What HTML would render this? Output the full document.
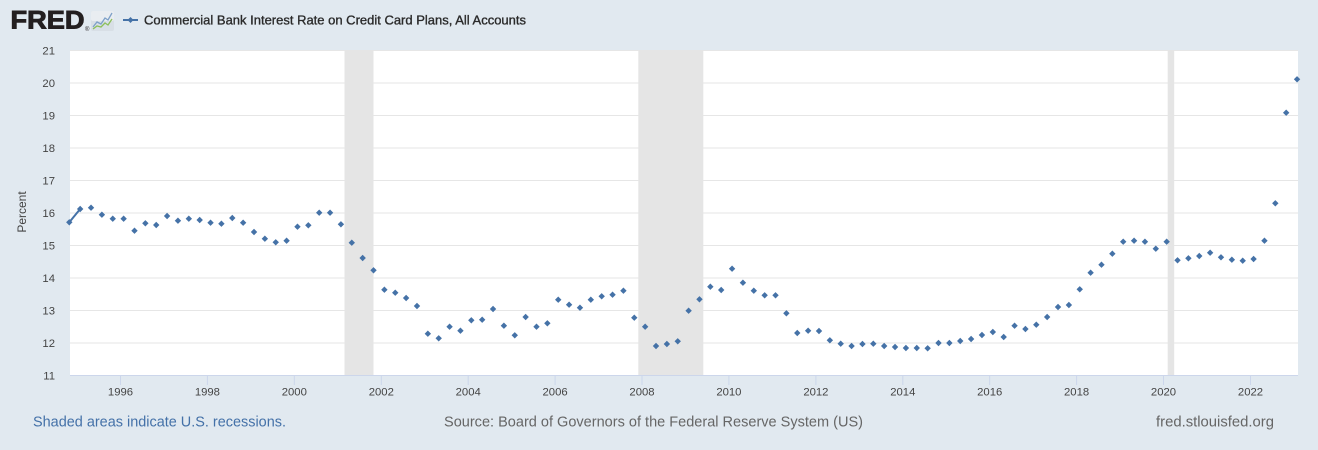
<!DOCTYPE html>
<html><head><meta charset="utf-8"><style>
html,body{margin:0;padding:0;background:#e1e9f0;}
svg{display:block;font-family:"Liberation Sans",Arial,sans-serif;}
</style></head><body>
<svg width="1318" height="450" viewBox="0 0 1318 450" xmlns="http://www.w3.org/2000/svg">
<rect x="0" y="0" width="1318" height="450" fill="#e1e9f0"/>
<!-- header -->
<text x="10.5" y="28.7" font-size="25" font-weight="bold" fill="#231f20" stroke="#231f20" stroke-width="0.9" textLength="74" lengthAdjust="spacingAndGlyphs">FRED</text>
<text x="85" y="31" font-size="6" fill="#231f20">®</text>
<rect x="91" y="11" width="23" height="20" rx="2" fill="#d8dfe6"/>
<rect x="91" y="11" width="23" height="10" rx="2" fill="#e9edf1"/>
<polyline points="93,27 97,22 101,24 105,18 108,20 112,13" fill="none" stroke="#7da0c8" stroke-width="1.3"/>
<polyline points="93,29 97,26 101,27 105,23 108,25 112,19" fill="none" stroke="#8cbf5a" stroke-width="1.3"/>
<line x1="123" y1="20" x2="138" y2="20" stroke="#4572a7" stroke-width="2"/>
<path d="M130.5 17 l3 3 -3 3 -3 -3z" fill="#4572a7"/>
<text x="144" y="24.3" font-size="13" fill="#2b2b2b" stroke="#2b2b2b" stroke-width="0.35" textLength="382" lengthAdjust="spacingAndGlyphs">Commercial Bank Interest Rate on Credit Card Plans, All Accounts</text>

<!-- plot area -->
<rect x="70" y="50" width="1228" height="325" fill="#ffffff"/>
<g stroke="#e6e6e6" stroke-width="1" shape-rendering="crispEdges">
<line x1="70" y1="50.5" x2="1298" y2="50.5"/>
<line x1="70" y1="83" x2="1298" y2="83"/>
<line x1="70" y1="115.5" x2="1298" y2="115.5"/>
<line x1="70" y1="148" x2="1298" y2="148"/>
<line x1="70" y1="180.5" x2="1298" y2="180.5"/>
<line x1="70" y1="213" x2="1298" y2="213"/>
<line x1="70" y1="245.5" x2="1298" y2="245.5"/>
<line x1="70" y1="278" x2="1298" y2="278"/>
<line x1="70" y1="310.5" x2="1298" y2="310.5"/>
<line x1="70" y1="343" x2="1298" y2="343"/>
</g>
<!-- recessions -->
<rect x="344.5" y="50" width="29" height="325" fill="#e5e5e5"/>
<rect x="638.3" y="50" width="65" height="325" fill="#e5e5e5"/>
<rect x="1167.7" y="50" width="6.5" height="325" fill="#e5e5e5"/>
<!-- x axis -->
<line x1="70" y1="375.5" x2="1298" y2="375.5" stroke="#ccd6eb" stroke-width="1"/>
<g stroke="#ccd6eb" stroke-width="1">
<line x1="120.5" y1="375" x2="120.5" y2="385"/>
<line x1="207.4" y1="375" x2="207.4" y2="385"/>
<line x1="294.3" y1="375" x2="294.3" y2="385"/>
<line x1="381.3" y1="375" x2="381.3" y2="385"/>
<line x1="468.2" y1="375" x2="468.2" y2="385"/>
<line x1="555.1" y1="375" x2="555.1" y2="385"/>
<line x1="642" y1="375" x2="642" y2="385"/>
<line x1="728.9" y1="375" x2="728.9" y2="385"/>
<line x1="815.9" y1="375" x2="815.9" y2="385"/>
<line x1="902.8" y1="375" x2="902.8" y2="385"/>
<line x1="989.7" y1="375" x2="989.7" y2="385"/>
<line x1="1076.6" y1="375" x2="1076.6" y2="385"/>
<line x1="1163.5" y1="375" x2="1163.5" y2="385"/>
<line x1="1250.5" y1="375" x2="1250.5" y2="385"/>
</g>
<g font-size="11.3" fill="#444" text-anchor="middle">
<text x="120.5" y="395.6">1996</text>
<text x="207.4" y="395.6">1998</text>
<text x="294.3" y="395.6">2000</text>
<text x="381.3" y="395.6">2002</text>
<text x="468.2" y="395.6">2004</text>
<text x="555.1" y="395.6">2006</text>
<text x="642" y="395.6">2008</text>
<text x="728.9" y="395.6">2010</text>
<text x="815.9" y="395.6">2012</text>
<text x="902.8" y="395.6">2014</text>
<text x="989.7" y="395.6">2016</text>
<text x="1076.6" y="395.6">2018</text>
<text x="1163.5" y="395.6">2020</text>
<text x="1250.5" y="395.6">2022</text>
</g>
<!-- y axis labels -->
<g font-size="11.3" fill="#444" text-anchor="end">
<text x="55" y="54.3">21</text>
<text x="55" y="87">20</text>
<text x="55" y="119.5">19</text>
<text x="55" y="152">18</text>
<text x="55" y="184.5">17</text>
<text x="55" y="217">16</text>
<text x="55" y="249.5">15</text>
<text x="55" y="282">14</text>
<text x="55" y="314.5">13</text>
<text x="55" y="347">12</text>
<text x="55" y="379.5">11</text>
</g>
<text transform="translate(26,212) rotate(-90)" font-size="12" fill="#444" text-anchor="middle">Percent</text>

<!-- series -->
<line x1="69.3" y1="222.3" x2="80.17" y2="209" stroke="#4572a7" stroke-width="2"/>
<path fill="#4572a7" d="
M69.3 219.1l3.2 3.2-3.2 3.2-3.2-3.2z
M80.17 205.8l3.2 3.2-3.2 3.2-3.2-3.2z
M91.03 204.5l3.2 3.2-3.2 3.2-3.2-3.2z
M101.9 211.5l3.2 3.2-3.2 3.2-3.2-3.2z
M112.76 215.5l3.2 3.2-3.2 3.2-3.2-3.2z
M123.63 215.5l3.2 3.2-3.2 3.2-3.2-3.2z
M134.49 227.5l3.2 3.2-3.2 3.2-3.2-3.2z
M145.36 220.1l3.2 3.2-3.2 3.2-3.2-3.2z
M156.22 221.8l3.2 3.2-3.2 3.2-3.2-3.2z
M167.09 212.8l3.2 3.2-3.2 3.2-3.2-3.2z
M177.95 217.5l3.2 3.2-3.2 3.2-3.2-3.2z
M188.82 215.5l3.2 3.2-3.2 3.2-3.2-3.2z
M199.68 216.8l3.2 3.2-3.2 3.2-3.2-3.2z
M210.55 219.5l3.2 3.2-3.2 3.2-3.2-3.2z
M221.41 220.5l3.2 3.2-3.2 3.2-3.2-3.2z
M232.28 214.8l3.2 3.2-3.2 3.2-3.2-3.2z
M243.14 219.5l3.2 3.2-3.2 3.2-3.2-3.2z
M254.01 228.8l3.2 3.2-3.2 3.2-3.2-3.2z
M264.87 235.5l3.2 3.2-3.2 3.2-3.2-3.2z
M275.74 239.1l3.2 3.2-3.2 3.2-3.2-3.2z
M286.6 237.5l3.2 3.2-3.2 3.2-3.2-3.2z
M297.47 223.5l3.2 3.2-3.2 3.2-3.2-3.2z
M308.33 222.1l3.2 3.2-3.2 3.2-3.2-3.2z
M319.2 209.5l3.2 3.2-3.2 3.2-3.2-3.2z
M330.06 209.5l3.2 3.2-3.2 3.2-3.2-3.2z
M340.93 221.1l3.2 3.2-3.2 3.2-3.2-3.2z
M351.79 239.5l3.2 3.2-3.2 3.2-3.2-3.2z
M362.66 254.8l3.2 3.2-3.2 3.2-3.2-3.2z
M373.52 267.1l3.2 3.2-3.2 3.2-3.2-3.2z
M384.39 286.5l3.2 3.2-3.2 3.2-3.2-3.2z
M395.25 289.5l3.2 3.2-3.2 3.2-3.2-3.2z
M406.12 294.8l3.2 3.2-3.2 3.2-3.2-3.2z
M416.98 302.8l3.2 3.2-3.2 3.2-3.2-3.2z
M427.85 330.5l3.2 3.2-3.2 3.2-3.2-3.2z
M438.71 335.1l3.2 3.2-3.2 3.2-3.2-3.2z
M449.58 323.5l3.2 3.2-3.2 3.2-3.2-3.2z
M460.44 327.5l3.2 3.2-3.2 3.2-3.2-3.2z
M471.31 317.1l3.2 3.2-3.2 3.2-3.2-3.2z
M482.17 316.5l3.2 3.2-3.2 3.2-3.2-3.2z
M493.04 305.8l3.2 3.2-3.2 3.2-3.2-3.2z
M503.9 322.5l3.2 3.2-3.2 3.2-3.2-3.2z
M514.77 332.1l3.2 3.2-3.2 3.2-3.2-3.2z
M525.63 313.8l3.2 3.2-3.2 3.2-3.2-3.2z
M536.5 323.5l3.2 3.2-3.2 3.2-3.2-3.2z
M547.36 320.1l3.2 3.2-3.2 3.2-3.2-3.2z
M558.23 296.5l3.2 3.2-3.2 3.2-3.2-3.2z
M569.09 301.5l3.2 3.2-3.2 3.2-3.2-3.2z
M579.96 304.5l3.2 3.2-3.2 3.2-3.2-3.2z
M590.82 296.5l3.2 3.2-3.2 3.2-3.2-3.2z
M601.69 293.1l3.2 3.2-3.2 3.2-3.2-3.2z
M612.55 291.5l3.2 3.2-3.2 3.2-3.2-3.2z
M623.42 287.5l3.2 3.2-3.2 3.2-3.2-3.2z
M634.28 314.5l3.2 3.2-3.2 3.2-3.2-3.2z
M645.15 323.5l3.2 3.2-3.2 3.2-3.2-3.2z
M656.01 342.8l3.2 3.2-3.2 3.2-3.2-3.2z
M666.88 340.8l3.2 3.2-3.2 3.2-3.2-3.2z
M677.74 338.1l3.2 3.2-3.2 3.2-3.2-3.2z
M688.61 307.5l3.2 3.2-3.2 3.2-3.2-3.2z
M699.47 296.1l3.2 3.2-3.2 3.2-3.2-3.2z
M710.34 283.5l3.2 3.2-3.2 3.2-3.2-3.2z
M721.2 286.8l3.2 3.2-3.2 3.2-3.2-3.2z
M732.07 265.5l3.2 3.2-3.2 3.2-3.2-3.2z
M742.93 279.5l3.2 3.2-3.2 3.2-3.2-3.2z
M753.8 287.5l3.2 3.2-3.2 3.2-3.2-3.2z
M764.66 292.1l3.2 3.2-3.2 3.2-3.2-3.2z
M775.53 292.1l3.2 3.2-3.2 3.2-3.2-3.2z
M786.39 310.1l3.2 3.2-3.2 3.2-3.2-3.2z
M797.26 329.8l3.2 3.2-3.2 3.2-3.2-3.2z
M808.12 327.5l3.2 3.2-3.2 3.2-3.2-3.2z
M818.99 327.8l3.2 3.2-3.2 3.2-3.2-3.2z
M829.85 337.1l3.2 3.2-3.2 3.2-3.2-3.2z
M840.72 340.5l3.2 3.2-3.2 3.2-3.2-3.2z
M851.58 342.8l3.2 3.2-3.2 3.2-3.2-3.2z
M862.45 340.8l3.2 3.2-3.2 3.2-3.2-3.2z
M873.31 340.5l3.2 3.2-3.2 3.2-3.2-3.2z
M884.18 342.8l3.2 3.2-3.2 3.2-3.2-3.2z
M895.04 343.8l3.2 3.2-3.2 3.2-3.2-3.2z
M905.91 344.8l3.2 3.2-3.2 3.2-3.2-3.2z
M916.77 344.8l3.2 3.2-3.2 3.2-3.2-3.2z
M927.64 345.1l3.2 3.2-3.2 3.2-3.2-3.2z
M938.5 339.8l3.2 3.2-3.2 3.2-3.2-3.2z
M949.37 339.8l3.2 3.2-3.2 3.2-3.2-3.2z
M960.23 337.8l3.2 3.2-3.2 3.2-3.2-3.2z
M971.1 335.8l3.2 3.2-3.2 3.2-3.2-3.2z
M981.96 331.8l3.2 3.2-3.2 3.2-3.2-3.2z
M992.83 328.8l3.2 3.2-3.2 3.2-3.2-3.2z
M1003.69 333.8l3.2 3.2-3.2 3.2-3.2-3.2z
M1014.56 322.5l3.2 3.2-3.2 3.2-3.2-3.2z
M1025.42 325.8l3.2 3.2-3.2 3.2-3.2-3.2z
M1036.29 321.5l3.2 3.2-3.2 3.2-3.2-3.2z
M1047.15 313.8l3.2 3.2-3.2 3.2-3.2-3.2z
M1058.02 303.8l3.2 3.2-3.2 3.2-3.2-3.2z
M1068.88 301.8l3.2 3.2-3.2 3.2-3.2-3.2z
M1079.75 286.1l3.2 3.2-3.2 3.2-3.2-3.2z
M1090.61 269.5l3.2 3.2-3.2 3.2-3.2-3.2z
M1101.48 261.5l3.2 3.2-3.2 3.2-3.2-3.2z
M1112.34 250.5l3.2 3.2-3.2 3.2-3.2-3.2z
M1123.21 238.5l3.2 3.2-3.2 3.2-3.2-3.2z
M1134.07 237.5l3.2 3.2-3.2 3.2-3.2-3.2z
M1144.94 238.5l3.2 3.2-3.2 3.2-3.2-3.2z
M1155.8 245.5l3.2 3.2-3.2 3.2-3.2-3.2z
M1166.67 238.5l3.2 3.2-3.2 3.2-3.2-3.2z
M1177.53 257.1l3.2 3.2-3.2 3.2-3.2-3.2z
M1188.4 255.1l3.2 3.2-3.2 3.2-3.2-3.2z
M1199.26 252.8l3.2 3.2-3.2 3.2-3.2-3.2z
M1210.13 249.5l3.2 3.2-3.2 3.2-3.2-3.2z
M1220.99 254.1l3.2 3.2-3.2 3.2-3.2-3.2z
M1231.86 256.5l3.2 3.2-3.2 3.2-3.2-3.2z
M1242.72 257.5l3.2 3.2-3.2 3.2-3.2-3.2z
M1253.59 255.8l3.2 3.2-3.2 3.2-3.2-3.2z
M1264.45 237.5l3.2 3.2-3.2 3.2-3.2-3.2z
M1275.32 200.1l3.2 3.2-3.2 3.2-3.2-3.2z
M1286.18 109.5l3.2 3.2-3.2 3.2-3.2-3.2z
M1297.05 76.1l3.2 3.2-3.2 3.2-3.2-3.2z
"/>

<!-- footer -->
<text x="33" y="426.7" font-size="14.5" fill="#4471a8" textLength="253" lengthAdjust="spacingAndGlyphs">Shaded areas indicate U.S. recessions.</text>
<text x="444" y="426.7" font-size="14.5" fill="#666666" textLength="419" lengthAdjust="spacingAndGlyphs">Source: Board of Governors of the Federal Reserve System (US)</text>
<text x="1156" y="426.7" font-size="14.5" fill="#666666" textLength="118" lengthAdjust="spacingAndGlyphs">fred.stlouisfed.org</text>
</svg>
</body></html>
